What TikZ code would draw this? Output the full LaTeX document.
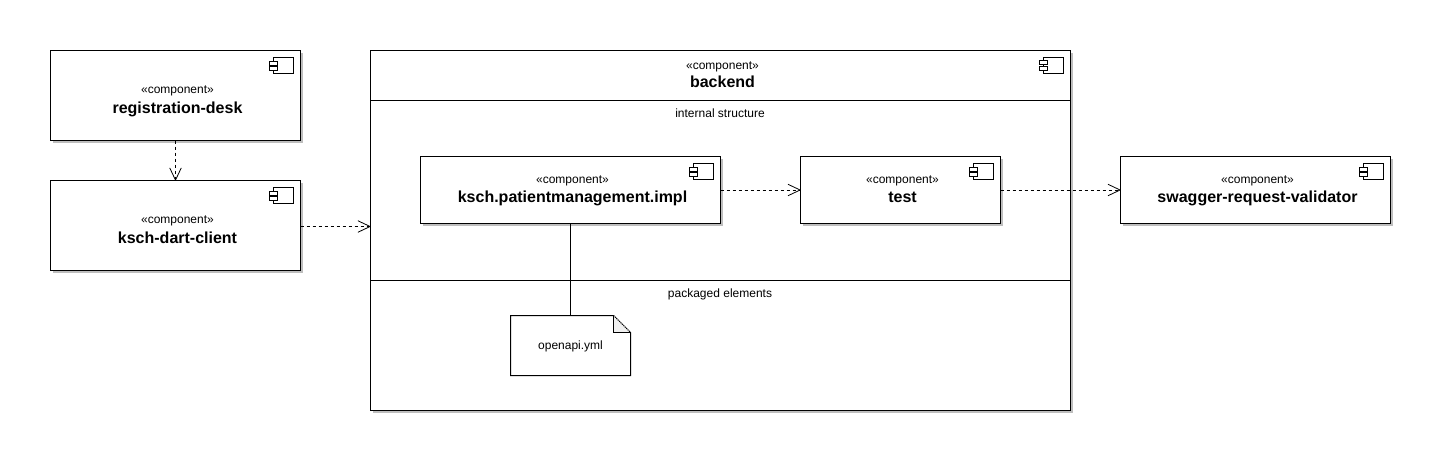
\documentclass[tikz,border=0pt]{standalone}
\usepackage{fontspec}
\setmainfont{Liberation Sans}
\usetikzlibrary{arrows.meta,shadows}
\definecolor{shadowgray}{HTML}{BEBEBE}
\definecolor{foldgray}{HTML}{F0F0F0}
\tikzset{
  x=0.75pt,y=-0.75pt,
  every node/.style={inner sep=0pt,outer sep=0pt},
  base line/.style={line width=0.75pt,draw=black},
  frame/.style 2 args={base line,fill=white,rectangle,minimum width=#1*0.75pt,minimum height=#2*0.75pt},
  comp/.style 2 args={frame={#1}{#2},drop shadow={shadow xshift=2.2pt,shadow yshift=-2.2pt,fill=shadowgray,opacity=1}},
  stereo/.style={anchor=base,font=\fontsize{9}{11}\selectfont},
  title/.style={anchor=base,font=\fontsize{12}{14}\selectfont\bfseries},
  plain/.style={anchor=base,font=\fontsize{9}{11}\selectfont},
  dep/.style={line width=0.75pt,dash pattern=on 2.25pt off 2.25pt,-{Straight Barb[length=9pt,width=8.5pt,line width=0.6pt,round=false]}},
  link/.style={line width=0.75pt},
  iconpart/.style={line width=0.75pt,draw=black,fill=white},
}
\newcommand\compicon[1]{%
  \begin{scope}[shift={(#1.north east)}]
    \draw[iconpart] (-27,7) rectangle (-7,23);
    \draw[iconpart] (-31,10.5) rectangle (-23,14.5);
    \draw[iconpart] (-31,16) rectangle (-23,20);
  \end{scope}}
% name, x, stereotype baseline, title baseline, title
\newcommand\complabel[5]{%
  \node[stereo] (#1s) at (#2,#3) {«component»};
  \node[title] (#1t) at (#2,#4) {#5};}
\begin{document}
\begin{tikzpicture}
\useasboundingbox (0,0) rectangle (1444,465);

% backend frame
\node[comp={700}{360}] (backend) at (720.5,230) {};
\coordinate (comp1) at (720,100.5);
\coordinate (comp2) at (720,280.5);
\draw[link] (backend.west |- comp1) -- (backend.east |- comp1);
\draw[link] (backend.west |- comp2) -- (backend.east |- comp2);
\compicon{backend}
\complabel{backend}{722.5}{69.5}{87.5}{backend}
\node[plain] (internal) at (720,117) {internal structure};
\node[plain] (packaged) at (720,297) {packaged elements};

% outer components
\node[comp={250}{90}] (reg) at (175.5,95.5) {};
\compicon{reg}
\complabel{reg}{177.5}{93.5}{113.5}{registration-desk}
\node[comp={250}{90}] (dart) at (175.5,225.5) {};
\compicon{dart}
\complabel{dart}{177.5}{223.5}{243.5}{ksch-dart-client}
\node[comp={300}{67}] (impl) at (570.5,190) {};
\compicon{impl}
\complabel{impl}{572.5}{183}{202}{ksch.patientmanagement.impl}
\node[comp={200}{67}] (test) at (900.5,190) {};
\compicon{test}
\complabel{test}{902.5}{183}{202}{test}
\node[comp={270}{67}] (swagger) at (1255.5,190) {};
\compicon{swagger}
\complabel{swagger}{1257.5}{183}{202}{swagger-request-validator}

% note
\node[rectangle,minimum width=90pt,minimum height=45pt] (note) at (570.5,345.5) {};
\draw[base line,fill=white] (note.north west) -- ([xshift=-12.75pt]note.north east) -- ([yshift=-12.75pt]note.north east) -- (note.south east) -- (note.south west) -- cycle;
\draw[base line,fill=foldgray] ([xshift=-12.75pt]note.north east) -- ([xshift=-12.75pt,yshift=-12.75pt]note.north east) -- ([yshift=-12.75pt]note.north east);
\draw[line width=0.75pt,dash pattern=on 0.75pt off 0.75pt] ([xshift=-12.75pt]note.north east) -- ([yshift=-12.75pt]note.north east);
\node[plain] (notet) at (570.5,349) {openapi.yml};

% connectors
\coordinate (dartout) at (300,226.5);
\draw[dep] (reg.south) -- (dart.north);
\draw[dep] (dart.east |- dartout) -- (backend.west |- dartout);
\draw[dep] (impl.east) -- (test.west);
\draw[dep] (test.east) -- (swagger.west);
\draw[link] (impl.south) -- (note.north);
\end{tikzpicture}
\end{document}
